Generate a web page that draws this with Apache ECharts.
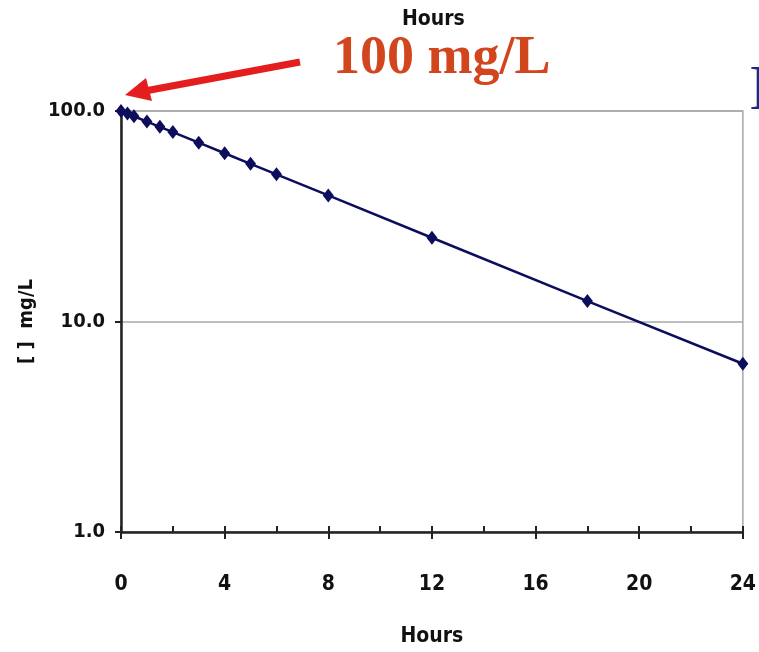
<!DOCTYPE html>
<html>
<head>
<meta charset="utf-8">
<script src="https://cdn.jsdelivr.net/npm/echarts@6/dist/echarts.min.js"></script>
<style>
  html, body { margin: 0; padding: 0; background: #fff; }
  #chart { width: 759px; height: 652px; }
</style>
</head>
<body>
<div id="chart"></div>
<script>
// time points (hours) and concentration (mg/L)
const hours = [0, 0.25, 0.5, 1, 1.5, 2, 3, 4, 5, 6, 8, 12, 18, 24];
const conc = [100, 97.2, 94.4, 89.1, 84.1, 79.4, 70.7, 63.0, 56.1, 50.0, 39.7, 25.0, 12.5, 6.3];
const xTicks = [0, 4, 8, 12, 16, 20, 24];
const yTicks = [1, 10, 100];

const narrow = "'DejaVu Sans Condensed', 'Liberation Sans Narrow', sans-serif";
const chart = echarts.init(document.getElementById('chart'));

chart.setOption({
  backgroundColor: '#fff',
  animation: false,
  grid: {
    left: 121, right: 13, top: 111, bottom: 119,
    show: true, borderColor: '#a8a8a8', borderWidth: 1.5
  },
  xAxis: [{
    type: 'value',
    min: xTicks[0], max: xTicks[xTicks.length - 1], interval: 4,
    name: 'Hours', nameLocation: 'middle', nameGap: 94,
    nameTextStyle: { fontFamily: narrow, fontSize: 21, fontWeight: 'bold', color: '#111' },
    axisLine: { lineStyle: { color: '#222', width: 2.5 } },
    axisTick: { show: true, length: 7, lineStyle: { color: '#222', width: 2 } },
    axisLabel: { fontFamily: narrow, fontSize: 21, fontWeight: 'bold', color: '#111', margin: 42 },
    splitLine: { show: false }
  }, {
    type: 'value',
    position: 'bottom',
    min: xTicks[0], max: xTicks[xTicks.length - 1], interval: 2,
    axisLine: { show: false },
    axisTick: { show: true, inside: true, length: 6, lineStyle: { color: '#222', width: 2 } },
    axisLabel: { show: false },
    splitLine: { show: false }
  }],
  yAxis: {
    type: 'log', logBase: 10, min: yTicks[0], max: yTicks[yTicks.length - 1],
    name: '[ ]  mg/L', nameLocation: 'middle', nameGap: 78, nameRotate: 90,
    nameTextStyle: { fontFamily: narrow, fontSize: 20, fontWeight: 'bold', color: '#111' },
    axisLine: { show: true, lineStyle: { color: '#222', width: 2.5 } },
    axisTick: { show: true, length: 6, lineStyle: { color: '#222', width: 2 } },
    axisLabel: {
      fontFamily: narrow, fontSize: 20, fontWeight: 'bold', color: '#111', margin: 16,
      formatter: v => v.toFixed(1)
    },
    splitLine: { show: true, lineStyle: { color: '#a8a8a8', width: 1.5 } }
  },
  series: [{
    type: 'line',
    data: hours.map((h, i) => [h, conc[i]]),
    symbol: 'diamond',
    symbolSize: [11, 14],
    itemStyle: { color: '#0d0d5e' },
    lineStyle: { color: '#0d0d5e', width: 2.5 },
    clip: false
  }],
  graphic: [
    {
      type: 'text', left: 402, top: 9,
      style: { text: 'Hours', font: "bold 21px 'DejaVu Sans Condensed', sans-serif", fill: '#111' }
    },
    {
      type: 'text', left: 333, top: 32,
      style: { text: '100 mg/L', font: "bold 54px 'Liberation Serif', serif", fill: '#d2461e' }
    },
    {
      type: 'text', left: 749, top: 60,
      style: { text: 'I', font: "64px 'Liberation Serif', serif", fill: '#1a2a8a' }
    },
    {
      type: 'line',
      shape: { x1: 300, y1: 62, x2: 145, y2: 91 },
      style: { stroke: '#e41e1e', lineWidth: 7 }
    },
    {
      type: 'polygon',
      shape: { points: [[125, 95], [152, 101], [146, 78]] },
      style: { fill: '#e41e1e' }
    }
  ]
});
</script>
</body>
</html>
